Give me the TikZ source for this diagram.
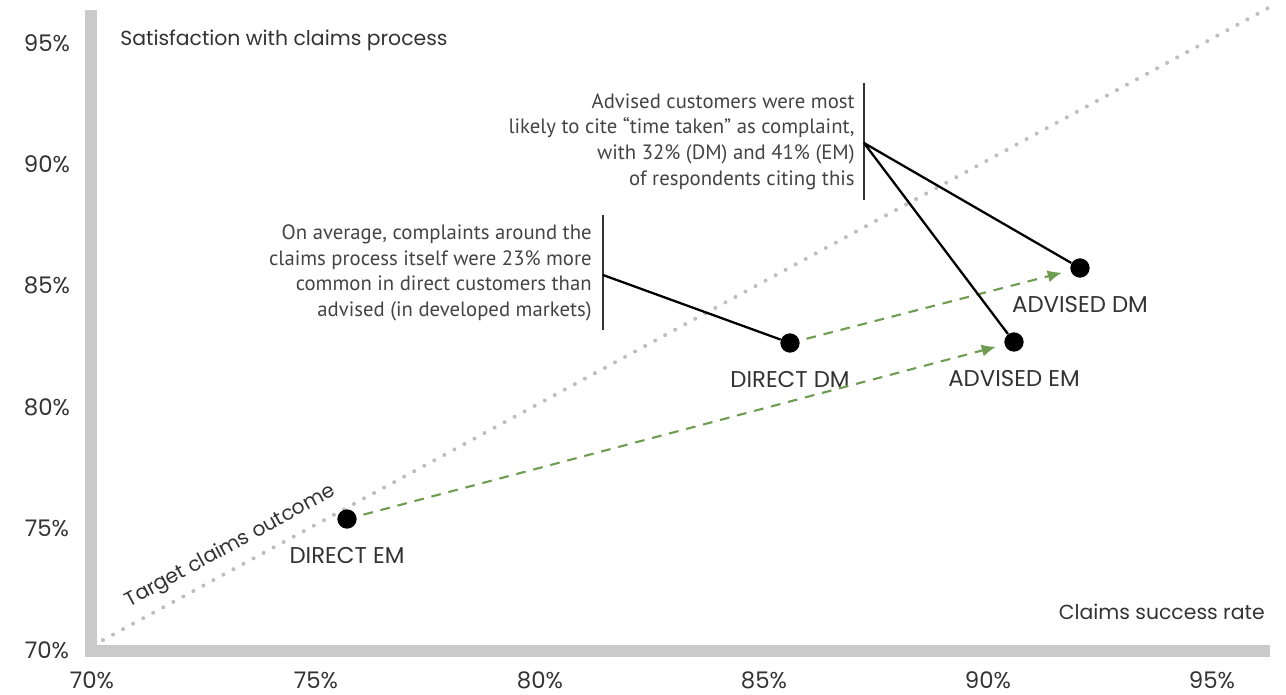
\documentclass[tikz,border=0pt]{standalone}
\usepackage{fontspec}
\setmainfont{Poppins}
\newfontfamily\notefont{PT Sans}
\usetikzlibrary{positioning}
\usetikzlibrary{arrows.meta}

\definecolor{axisgrey}{HTML}{CACACA}
\definecolor{dotgrey}{HTML}{BEBEBE}
\definecolor{labelgrey}{HTML}{333333}
\definecolor{notegrey}{HTML}{444444}
\definecolor{shiftgreen}{HTML}{6E9C50}

\tikzset{
    axisbar/.style={draw=axisgrey, line width=6.8pt},
    ticklabel/.style={text=labelgrey, font=\fontsize{13}{15}\selectfont, inner sep=0pt},
    axistitle/.style={text=labelgrey, font=\fontsize{11.6}{14}\selectfont, inner sep=0pt},
    groupdot/.style={circle, fill=black, minimum size=11pt, inner sep=0pt},
    grouplabel/.style={text=labelgrey, font=\fontsize{13}{15}\selectfont, inner sep=0pt},
    notetext/.style={text=notegrey, align=right, anchor=east, inner sep=0pt, font=\notefont\fontsize{11.8}{14.6}\selectfont},
    notebar/.style={draw=labelgrey, line width=1.6pt},
    leader/.style={draw=black, line width=1.3pt},
    moveline/.style={draw=shiftgreen, line width=1.2pt, dash pattern=on 5.5pt off 4.5pt, -{Latex[length=8pt,width=7pt]}, shorten >=5pt, shorten <=4pt},
    targetline/.style={draw=dotgrey, line width=2.3pt, line cap=round, dash pattern=on 0pt off 6.5pt}
}

\begin{document}
\begin{tikzpicture}[x=0.02cm, y=-0.02cm]

    \useasboundingbox (0,0) rectangle (1286,694);

    % axes
    \coordinate (origin) at (91,651);
    \draw[axisbar] (91,10) -- (origin) -- (1270,651);

    \node[axistitle, anchor=west] (ytitle) at (120,40) {Satisfaction with claims process};
    \node[axistitle, anchor=east] (xtitle) at (1265,612) {Claims success rate};

    % tick labels
    \foreach \v [count=\i from 0] in {70,75,80,85,90,95} {
        \node[ticklabel] (xt\v) at (92+224*\i,680) {\v\%};
        \node[ticklabel] (yt\v) at (47,650-121.4*\i) {\v\%};
    }

    % target line
    \coordinate (tstart) at (103,640);
    \coordinate (tend) at (1272,6);
    \draw[targetline] (tstart) -- (tend)
        node[pos=0.118, sloped, above=5pt, text=labelgrey, inner sep=0pt, font=\fontsize{11.5}{14}\selectfont] (targetlabel) {Target claims outcome};

    % groups
    \node[groupdot] (direm) at (347,519) {};
    \node[groupdot] (dirdm) at (790,343) {};
    \node[groupdot] (advem) at (1014,342) {};
    \node[groupdot] (advdm) at (1080,268) {};

    \node[grouplabel, below=10pt of direm] (diremlabel) {DIRECT EM};
    \node[grouplabel, below=10pt of dirdm] (dirdmlabel) {DIRECT DM};
    \node[grouplabel, below=10pt of advem] (advemlabel) {ADVISED EM};
    \node[grouplabel, below=10pt of advdm] (advdmlabel) {ADVISED DM};

    % direct -> advised
    \draw[moveline] (dirdm) -- (advdm);
    \draw[moveline] (direm) -- (advem);

    % notes
    \node[notetext] (noteadv) at (855,141.5) {Advised customers were most\\likely to cite “time taken” as complaint,\\with 32\% (DM) and 41\% (EM)\\of respondents citing this};
    \draw[notebar] (864,83) -- (864,200);
    \coordinate (hubadv) at (864,143);
    \draw[leader] (hubadv) -- (advdm);
    \draw[leader] (hubadv) -- (advem);

    \node[notetext] (notedir) at (592,273) {On average, complaints around the\\claims process itself were 23\% more\\common in direct customers than\\advised (in developed markets)};
    \draw[notebar] (603,215) -- (603,330);
    \coordinate (hubdir) at (603,275);
    \draw[leader] (hubdir) -- (dirdm);

\end{tikzpicture}
\end{document}
